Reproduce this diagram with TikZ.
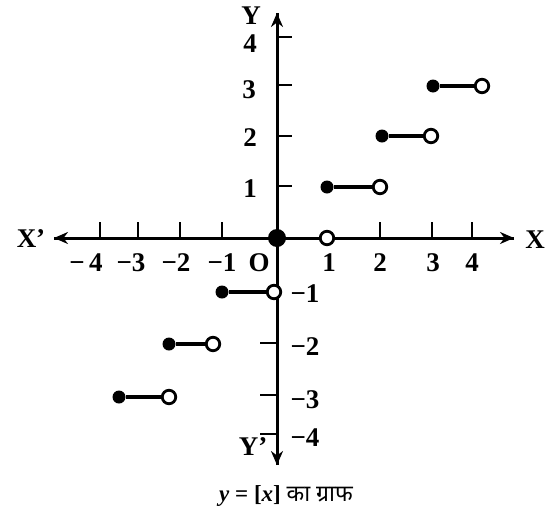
\documentclass[tikz,border=0pt]{standalone}
\usepackage{fontspec}
\setmainfont{Liberation Serif}
\newfontfamily\hindi[Script=Devanagari]{Noto Sans}
\usetikzlibrary{arrows.meta}
\begin{document}
\begin{tikzpicture}[x=1pt,y=-1pt,
  axis/.style={line width=3pt,-{Stealth[length=14pt,width=12pt]}},
  tickmark/.style={line width=2.8pt},
  seg/.style={line width=3.4pt},
  fdot/.style={circle,fill=black,inner sep=0pt,minimum size=13pt},
  bigdot/.style={circle,fill=black,inner sep=0pt,minimum size=18pt},
  odot/.style={circle,draw=black,fill=white,line width=2.8pt,inner sep=0pt,minimum size=13.5pt},
  lab/.style={font=\fontsize{27}{29}\selectfont\bfseries,inner sep=0pt}]
\useasboundingbox (0,0) rectangle (546,517);
% axes
\coordinate (xl) at (54,238);
\coordinate (xr) at (514,238);
\coordinate (yt) at (277,13);
\coordinate (yb) at (277,465);
\draw[axis] (xr) -- (xl);
\draw[axis] (xl) -- (xr);
\draw[axis] (yb) -- (yt);
\draw[axis] (yt) -- (yb);
% x ticks
\foreach \x in {100,138,180,222,380,432,472}
  \draw[tickmark] (\x,238) -- (\x,222);
% y ticks
\foreach \y in {37,85,136,186}
  \draw[tickmark] (277,\y) -- (292,\y);
\foreach \y in {291,343,395,434}
  \draw[tickmark] (277,\y) -- (260,\y);
% labels
\node[lab] (xp) at (31,239) {X’};
\node[lab,anchor=east] (xx) at (545,240) {X};
\node[lab] (yy) at (251,16) {Y};
\node[lab] (yp) at (253,447) {Y’};
\node[lab] at (86,263) {−\,4};
\node[lab] at (131,263) {−3};
\node[lab] at (176,263) {−2};
\node[lab] at (222,263) {−1};
\node[lab] at (259,263) {O};
\node[lab] at (329,263) {1};
\node[lab] at (380,263) {2};
\node[lab] at (433,263) {3};
\node[lab] at (472,263) {4};
\node[lab] at (250,44) {4};
\node[lab] at (249,90) {3};
\node[lab] at (250,138) {2};
\node[lab] at (250,189) {1};
\node[lab] at (305,294) {−1};
\node[lab] at (305,347) {−2};
\node[lab] at (305,400) {−3};
\node[lab] at (305,438) {−4};
% step segments
\node[fdot] (a3) at (433,86) {};  \node[odot] (b3) at (482,86) {};
\node[fdot] (a2) at (382,136) {}; \node[odot] (b2) at (431,136) {};
\node[fdot] (a1) at (327,187) {}; \node[odot] (b1) at (380,187) {};
\node[odot] (b0) at (327,238) {};
\node[bigdot] (a0) at (277,238) {};
\node[fdot] (am1) at (222,292) {}; \node[odot] (bm1) at (274,292) {};
\node[fdot] (am2) at (169,344) {}; \node[odot] (bm2) at (213,344) {};
\node[fdot] (am3) at (119,397) {}; \node[odot] (bm3) at (169,397) {};
\draw[seg] (a3) -- (b3);
\draw[seg] (a2) -- (b2);
\draw[seg] (a1) -- (b1);
\draw[seg] (am1) -- (bm1);
\draw[seg] (am2) -- (bm2);
\draw[seg] (am3) -- (bm3);
% caption
\node[inner sep=0pt] (cap) at (286,496) {\fontsize{23}{25}\selectfont\bfseries\itshape y\/\upshape\ = [\itshape x\/\upshape] {\hindi\bfseries का ग्राफ}};
\end{tikzpicture}
\end{document}
